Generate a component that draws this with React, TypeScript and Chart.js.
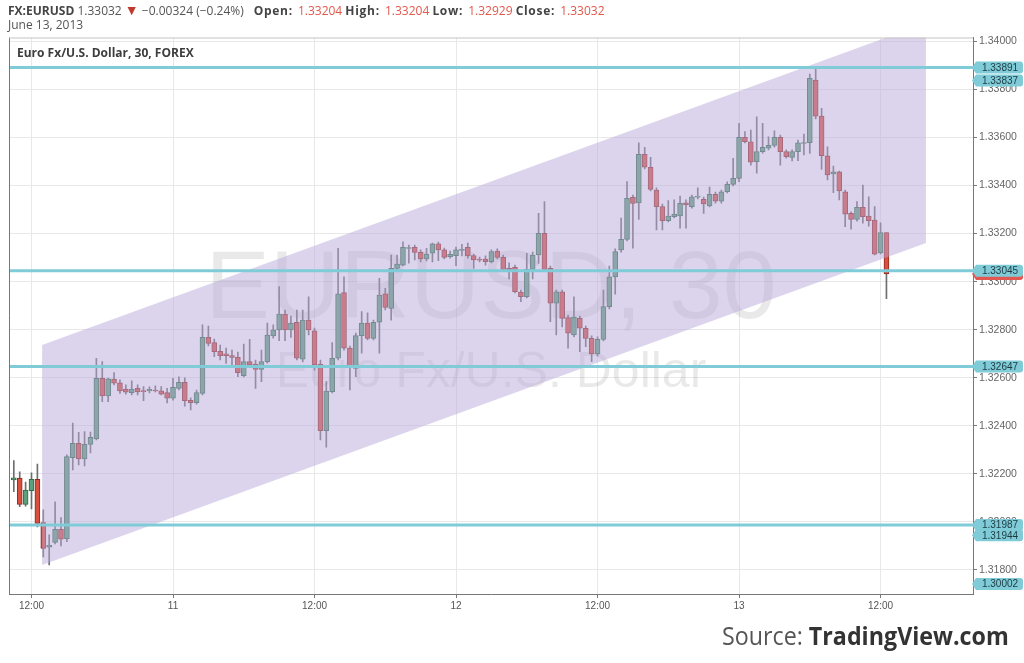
import React, { useEffect, useRef } from "react";
import { Chart, registerables } from "chart.js";
Chart.register(...registerables);

// slot 0 = 12:00 on 10 June 2013, one slot per 30-minute bar
const firstSlot = -3;
const opens = [
  1.32175, 1.32182, 1.32073, 1.32130, 1.32177, 1.31997, 1.31895, 1.31915, 1.31969, 1.31930,
  1.32267, 1.32327, 1.32262, 1.32323, 1.32345, 1.32598, 1.32524, 1.32594, 1.32579, 1.32553,
  1.32538, 1.32556, 1.32546, 1.32545, 1.32549, 1.32546, 1.32538, 1.32515, 1.32556, 1.32581,
  1.32506, 1.32496, 1.32535, 1.32768, 1.32746, 1.32710, 1.32700, 1.32692, 1.32685, 1.32609,
  1.32667, 1.32657, 1.32635, 1.32667, 1.32774, 1.32799, 1.32865, 1.32799, 1.32831, 1.32677,
  1.32840, 1.32795, 1.32657, 1.32380, 1.32542, 1.32681, 1.32954, 1.32723, 1.32639, 1.32775,
  1.32827, 1.32764, 1.32831, 1.32949, 1.32889, 1.33055, 1.33069, 1.33138, 1.33143, 1.33122,
  1.33094, 1.33118, 1.33157, 1.33132, 1.33104, 1.33108, 1.33130, 1.33143, 1.33108, 1.33091,
  1.33094, 1.33083, 1.33127, 1.33101, 1.33055, 1.33060, 1.32956, 1.32937, 1.33051, 1.33111,
  1.33201, 1.33055, 1.32910, 1.32958, 1.32850, 1.32778, 1.32847, 1.32806, 1.32764, 1.32699,
  1.32760, 1.32896, 1.33020, 1.33132, 1.33176, 1.33351, 1.33328, 1.33530, 1.33476, 1.33381,
  1.33312, 1.33254, 1.33270, 1.33273, 1.33328, 1.33312, 1.33352, 1.33343, 1.33315, 1.33363,
  1.33335, 1.33374, 1.33405, 1.33430, 1.33601, 1.33582, 1.33499, 1.33541, 1.33555, 1.33567,
  1.33601, 1.33541, 1.33517, 1.33541, 1.33575, 1.33578, 1.33839, 1.33689, 1.33524, 1.33448,
  1.33457, 1.33374, 1.33284, 1.33259, 1.33309, 1.33273, 1.33256, 1.33120, 1.33204,
];
const highs = [
  1.32255, 1.32208, 1.32166, 1.32204, 1.32241, 1.32050, 1.31946, 1.32084, 1.32018, 1.32279,
  1.32411, 1.32373, 1.32376, 1.32374, 1.32681, 1.32667, 1.32599, 1.32621, 1.32591, 1.32570,
  1.32587, 1.32570, 1.32563, 1.32562, 1.32566, 1.32563, 1.32556, 1.32598, 1.32604, 1.32600,
  1.32516, 1.32549, 1.32820, 1.32815, 1.32761, 1.32736, 1.32723, 1.32715, 1.32707, 1.32740,
  1.32760, 1.32674, 1.32715, 1.32827, 1.32820, 1.32979, 1.32882, 1.32857, 1.32882, 1.32882,
  1.32937, 1.32807, 1.32674, 1.32584, 1.32746, 1.33139, 1.33020, 1.32732, 1.32786, 1.32875,
  1.32870, 1.32840, 1.33014, 1.32972, 1.33111, 1.33111, 1.33166, 1.33152, 1.33152, 1.33132,
  1.33139, 1.33160, 1.33165, 1.33140, 1.33127, 1.33144, 1.33155, 1.33160, 1.33115, 1.33102,
  1.33107, 1.33132, 1.33136, 1.33111, 1.33078, 1.33069, 1.32965, 1.33118, 1.33123, 1.33284,
  1.33333, 1.33065, 1.32965, 1.32965, 1.32861, 1.32937, 1.32857, 1.32815, 1.32774, 1.32770,
  1.32965, 1.33065, 1.33136, 1.33264, 1.33416, 1.33360, 1.33578, 1.33559, 1.33517, 1.33390,
  1.33323, 1.33337, 1.33340, 1.33356, 1.33340, 1.33360, 1.33390, 1.33352, 1.33394, 1.33373,
  1.33381, 1.33415, 1.33513, 1.33659, 1.33624, 1.33631, 1.33686, 1.33659, 1.33603, 1.33628,
  1.33610, 1.33548, 1.33548, 1.33589, 1.33614, 1.33864, 1.33894, 1.33721, 1.33561, 1.33481,
  1.33460, 1.33381, 1.33290, 1.33333, 1.33402, 1.33353, 1.33312, 1.33245, 1.33204,
];
const lows = [
  1.32126, 1.32063, 1.32066, 1.32054, 1.31979, 1.31854, 1.31821, 1.31908, 1.31900, 1.31918,
  1.32216, 1.32237, 1.32233, 1.32287, 1.32341, 1.32500, 1.32500, 1.32570, 1.32535, 1.32532,
  1.32528, 1.32528, 1.32505, 1.32537, 1.32541, 1.32528, 1.32495, 1.32507, 1.32549, 1.32482,
  1.32466, 1.32490, 1.32528, 1.32732, 1.32688, 1.32674, 1.32660, 1.32653, 1.32604, 1.32603,
  1.32645, 1.32556, 1.32584, 1.32661, 1.32765, 1.32754, 1.32754, 1.32768, 1.32674, 1.32666,
  1.32778, 1.32632, 1.32341, 1.32311, 1.32537, 1.32674, 1.32715, 1.32549, 1.32604, 1.32702,
  1.32757, 1.32757, 1.32702, 1.32882, 1.32840, 1.33048, 1.33065, 1.33077, 1.33090, 1.33082,
  1.33086, 1.33082, 1.33087, 1.33094, 1.33098, 1.33066, 1.33107, 1.33098, 1.33055, 1.33082,
  1.33069, 1.33078, 1.33094, 1.33044, 1.33011, 1.32953, 1.32917, 1.32932, 1.33011, 1.33076,
  1.33044, 1.32833, 1.32778, 1.32812, 1.32723, 1.32770, 1.32708, 1.32729, 1.32667, 1.32691,
  1.32753, 1.32886, 1.32948, 1.33123, 1.33169, 1.33139, 1.33259, 1.33469, 1.33377, 1.33215,
  1.33215, 1.33248, 1.33265, 1.33222, 1.33223, 1.33306, 1.33344, 1.33284, 1.33311, 1.33327,
  1.33327, 1.33369, 1.33398, 1.33416, 1.33577, 1.33485, 1.33451, 1.33535, 1.33548, 1.33560,
  1.33485, 1.33514, 1.33502, 1.33503, 1.33527, 1.33534, 1.33677, 1.33467, 1.33423, 1.33370,
  1.33340, 1.33229, 1.33218, 1.33252, 1.33243, 1.33231, 1.33111, 1.33115, 1.32929,
];
const closes = [
  1.32183, 1.32073, 1.32133, 1.32177, 1.31994, 1.31890, 1.31903, 1.31969, 1.31928, 1.32272,
  1.32327, 1.32262, 1.32323, 1.32352, 1.32598, 1.32524, 1.32595, 1.32577, 1.32545, 1.32540,
  1.32553, 1.32541, 1.32542, 1.32552, 1.32545, 1.32532, 1.32515, 1.32560, 1.32581, 1.32505,
  1.32496, 1.32538, 1.32768, 1.32743, 1.32708, 1.32692, 1.32692, 1.32685, 1.32621, 1.32667,
  1.32653, 1.32635, 1.32667, 1.32778, 1.32799, 1.32865, 1.32799, 1.32827, 1.32681, 1.32840,
  1.32799, 1.32653, 1.32380, 1.32545, 1.32681, 1.32949, 1.32723, 1.32650, 1.32775, 1.32827,
  1.32764, 1.32831, 1.32944, 1.32893, 1.33055, 1.33073, 1.33143, 1.33139, 1.33122, 1.33094,
  1.33115, 1.33157, 1.33132, 1.33101, 1.33114, 1.33132, 1.33133, 1.33107, 1.33090, 1.33089,
  1.33083, 1.33125, 1.33101, 1.33051, 1.33048, 1.32958, 1.32937, 1.33051, 1.33111, 1.33201,
  1.33051, 1.32910, 1.32958, 1.32847, 1.32785, 1.32852, 1.32806, 1.32764, 1.32699, 1.32760,
  1.32896, 1.33020, 1.33125, 1.33176, 1.33347, 1.33326, 1.33530, 1.33476, 1.33384, 1.33312,
  1.33254, 1.33273, 1.33281, 1.33326, 1.33319, 1.33353, 1.33354, 1.33323, 1.33363, 1.33335,
  1.33374, 1.33405, 1.33430, 1.33601, 1.33582, 1.33497, 1.33541, 1.33559, 1.33567, 1.33601,
  1.33541, 1.33520, 1.33541, 1.33578, 1.33576, 1.33846, 1.33689, 1.33524, 1.33444, 1.33457,
  1.33378, 1.33281, 1.33259, 1.33309, 1.33270, 1.33254, 1.33114, 1.33204, 1.33032,
];

const xTickSlots = [0, 24, 48, 72, 96, 120, 144];
const xTickLabels = ["12:00", "11", "12:00", "12", "12:00", "13", "12:00"];
const yTickValues = [1.318, 1.320, 1.322, 1.324, 1.326, 1.328, 1.330, 1.332, 1.334, 1.336, 1.338, 1.340];

const levelLines = [1.33891, 1.33045, 1.32647, 1.31987];
const levelLabels = [1.33891, 1.33837, 1.33045, 1.32647, 1.31987, 1.31944, 1.30002];
const lastClose = 1.33032;

const channelSlots = [1.8, 151.7];
const channelLower = [1.31821, 1.33161];
const channelUpper = [1.32736, 1.34076];

const watermarkMain = "EURUSD, 30";
const watermarkSub = "Euro Fx/U.S. Dollar";
const paneTitle = "Euro Fx/U.S. Dollar, 30, FOREX";

const upFill = "#5da17a";
const upBorder = "#2f6b48";
const downFill = "#d9503f";
const downBorder = "#8e2b20";
const wickColor = "#6e6e6e";
const levelColor = "#7fcbd8";
const sansFamily = "'Liberation Sans', Arial, sans-serif";

export default function App() {
  const ref = useRef<HTMLCanvasElement | null>(null);

  useEffect(() => {
    const slots = opens.map((_, k) => firstSlot + k);
    const isUp = opens.map((o, k) => closes[k] >= o);

    const overlay = {
      id: "overlay",
      beforeDatasetsDraw(c: any) {
        const { ctx, chartArea: a } = c;
        ctx.save();
        ctx.beginPath();
        ctx.rect(a.left, a.top, a.right - a.left, a.bottom - a.top);
        ctx.clip();
        ctx.fillStyle = "rgba(0,0,0,0.085)";
        ctx.textAlign = "center";
        ctx.textBaseline = "alphabetic";
        const cx = (a.left + a.right) / 2;
        ctx.font = "97px " + sansFamily;
        ctx.fillText(watermarkMain, cx, a.top + 280.5);
        ctx.font = "50px " + sansFamily;
        ctx.fillText(watermarkSub, cx, a.top + 349);
        ctx.restore();
      },
      afterDatasetsDraw(c: any) {
        const { ctx, chartArea: a } = c;
        const x = c.scales.x;
        const y = c.scales.y;
        ctx.save();
        ctx.beginPath();
        ctx.rect(a.left, a.top, a.right - a.left, a.bottom - a.top);
        ctx.clip();
        ctx.fillStyle = "rgba(185,169,217,0.5)";
        ctx.beginPath();
        ctx.moveTo(x.getPixelForValue(channelSlots[0]), y.getPixelForValue(channelLower[0]));
        ctx.lineTo(x.getPixelForValue(channelSlots[1]), y.getPixelForValue(channelLower[1]));
        ctx.lineTo(x.getPixelForValue(channelSlots[1]), y.getPixelForValue(channelUpper[1]));
        ctx.lineTo(x.getPixelForValue(channelSlots[0]), y.getPixelForValue(channelUpper[0]));
        ctx.closePath();
        ctx.fill();
        ctx.restore();

        ctx.save();
        ctx.strokeStyle = levelColor;
        ctx.lineWidth = 3;
        levelLines.forEach((v) => {
          const py = y.getPixelForValue(v);
          ctx.beginPath();
          ctx.moveTo(a.left, py);
          ctx.lineTo(a.right + 2, py);
          ctx.stroke();
        });
        ctx.restore();
      },
      afterDraw(c: any) {
        const { ctx, chartArea: a } = c;
        const y = c.scales.y;
        ctx.save();
        ctx.strokeStyle = "#777";
        ctx.lineWidth = 1;
        ctx.beginPath();
        ctx.moveTo(a.left + 0.5, a.top);
        ctx.lineTo(a.left + 0.5, a.bottom);
        ctx.stroke();
        ctx.strokeStyle = "#c4c4c4";
        ctx.beginPath();
        ctx.moveTo(a.left, a.top + 0.5);
        ctx.lineTo(a.right, a.top + 0.5);
        ctx.stroke();

        const box = (v: number, fill: string, text: string | null) => {
          let py = y.getPixelForValue(v);
          py = Math.max(a.top + 6, Math.min(a.bottom - 10, py));
          const bx = a.right + 2;
          const bw = 1023 - bx;
          const bh = 12;
          ctx.fillStyle = fill;
          ctx.beginPath();
          ctx.moveTo(bx - 3, py);
          ctx.lineTo(bx + 1, py - bh / 2);
          ctx.lineTo(bx + bw - 3, py - bh / 2);
          ctx.quadraticCurveTo(bx + bw, py - bh / 2, bx + bw, py - bh / 2 + 3);
          ctx.lineTo(bx + bw, py + bh / 2 - 3);
          ctx.quadraticCurveTo(bx + bw, py + bh / 2, bx + bw - 3, py + bh / 2);
          ctx.lineTo(bx + 1, py + bh / 2);
          ctx.closePath();
          ctx.fill();
          if (text) {
            ctx.fillStyle = "#1d3a40";
            ctx.font = "10px " + sansFamily;
            ctx.textAlign = "center";
            ctx.textBaseline = "middle";
            ctx.fillText(text, bx + bw / 2 + 1, py + 0.5);
          }
        };
        box(lastClose, "#e0584f", null);
        levelLabels.forEach((v) => box(v, levelColor, v.toFixed(5)));
        ctx.restore();
      },
    };

    const chart = new Chart(ref.current as HTMLCanvasElement, {
      type: "bar",
      data: {
        datasets: [
          {
            label: "body",
            data: slots.map((s, k) => ({ x: s, y: [opens[k], closes[k]] })),
            backgroundColor: isUp.map((u) => (u ? upFill : downFill)),
            borderColor: isUp.map((u) => (u ? upBorder : downBorder)),
            borderWidth: 1,
            borderSkipped: false,
            barThickness: 5,
            minBarLength: 1,
            grouped: false,
            order: 1,
          } as any,
          {
            label: "wick",
            data: slots.map((s, k) => ({ x: s, y: [lows[k], highs[k]] })),
            backgroundColor: wickColor,
            borderWidth: 0,
            barThickness: 1,
            grouped: false,
            order: 2,
          } as any,
        ],
      },
      options: {
        animation: false,
        responsive: false,
        devicePixelRatio: 1,
        events: [],
        layout: { padding: { left: 9, top: 37.5, right: 0, bottom: 47 } },
        plugins: { legend: { display: false }, tooltip: { enabled: false }, title: { display: false } },
        scales: {
          x: {
            type: "linear",
            offset: false,
            min: -3.816,
            max: 159.68,
            afterBuildTicks: (s: any) => {
              s.ticks = xTickSlots.map((v) => ({ value: v }));
            },
            afterFit: (s: any) => {
              s.height = 22;
            },
            ticks: {
              autoSkip: false,
              maxRotation: 0,
              padding: 2,
              color: "#555",
              font: { family: "'Liberation Sans Narrow', " + sansFamily, size: 10 },
              callback: (v: any) => {
                const idx = xTickSlots.indexOf(Number(v));
                return idx >= 0 ? xTickLabels[idx] : "";
              },
            },
            grid: { offset: false, color: "#e8e8e8", tickColor: "#777", tickLength: 4 },
            border: { color: "#777" },
          },
          y: {
            type: "linear",
            position: "right",
            min: 1.317,
            max: 1.34016,
            afterBuildTicks: (s: any) => {
              s.ticks = yTickValues.map((v) => ({ value: v }));
            },
            afterFit: (s: any) => {
              s.width = 51;
            },
            ticks: {
              padding: 2,
              color: "#666",
              font: { family: sansFamily, size: 10.5 },
              callback: (v: any) => Number(v).toFixed(5),
            },
            grid: { color: "#e8e8e8", tickColor: "#777", tickLength: 4 },
            border: { color: "#777" },
          },
        },
      } as any,
      plugins: [overlay],
    });
    return () => chart.destroy();
  }, []);

  const red = { color: "#e2574c" };
  const lab = { fontWeight: 700, color: "#444", letterSpacing: "0.7px", marginRight: 2 };
  return (
    <div
      style={{
        position: "absolute",
        left: 0,
        top: 0,
        width: 1024,
        height: 663,
        background: "#fff",
        overflow: "hidden",
        fontFamily: "'Open Sans', sans-serif",
      }}
    >
      <canvas ref={ref} width={1024} height={663} style={{ position: "absolute", left: 0, top: 0 }} />
      <div style={{ position: "absolute", left: 8, top: 2, fontSize: 12, lineHeight: "16px", color: "#555", whiteSpace: "nowrap" }}>
        <span style={{ fontWeight: 700, color: "#444" }}>FX:EURUSD</span> 1.33032{" "}
        <span style={{ color: "#c0392b", fontSize: 14 }}>▼</span> −0.00324 (−0.24%)
        <span style={{ display: "inline-block", width: 10 }} />
        <span style={lab}>Open:</span> <span style={red}>1.33204</span> <span style={lab}>High:</span>{" "}
        <span style={red}>1.33204</span> <span style={lab}>Low:</span> <span style={red}>1.32929</span>{" "}
        <span style={lab}>Close:</span> <span style={red}>1.33032</span>
      </div>
      <div style={{ position: "absolute", left: 8, top: 17, fontSize: 12, lineHeight: "16px", color: "#555", whiteSpace: "nowrap" }}>
        June 13, 2013
      </div>
      <div style={{ position: "absolute", left: 17, top: 45, fontSize: 12, lineHeight: "16px", fontWeight: 700, color: "#3d3d3d", whiteSpace: "nowrap" }}>
        {paneTitle}
      </div>
      <div
        style={{
          position: "absolute",
          left: 722,
          top: 619,
          fontSize: 25,
          lineHeight: "32px",
          whiteSpace: "nowrap",
          transform: "scaleX(0.93)",
          transformOrigin: "left center",
        }}
      >
        <span style={{ color: "#555" }}>Source: </span>
        <span style={{ color: "#333", fontWeight: 700 }}>TradingView.com</span>
      </div>
    </div>
  );
}
